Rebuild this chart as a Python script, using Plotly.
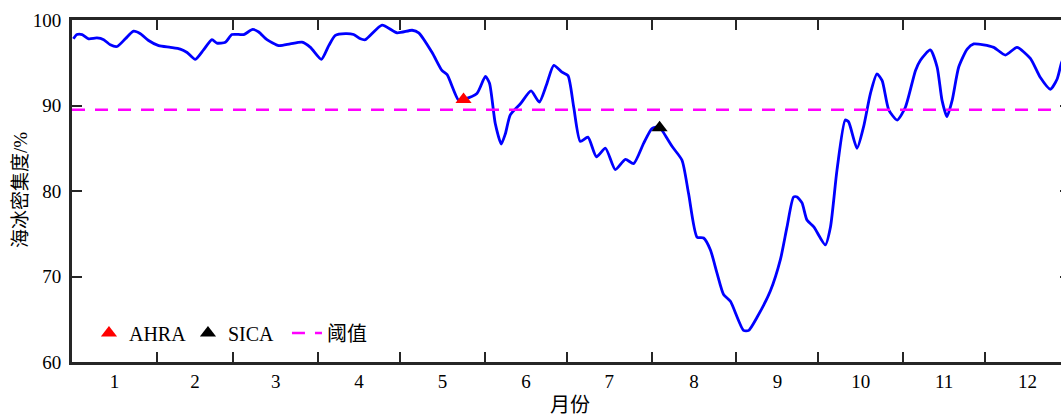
import plotly.graph_objects as go

# ---- data (day of year, sea-ice concentration %) ----
days = [0.5, 1.8, 3.7, 6.1, 9.1, 11.6, 14.0, 16.5, 19.5, 22.5, 25.0, 28.0, 31.7, 36.0, 39.6,
        42.1, 45.1, 48.1, 51.2, 53.0, 56.1, 58.5, 62.8, 66.1, 68.3, 71.3, 75.6, 79.8, 84.1,
        87.2, 91.2, 93.9, 96.3, 100.0, 103.0, 105.5, 107.3, 113.4, 118.9, 124.4, 126.8,
        131.7, 135.3, 137.2, 141.4, 143.2, 148.1, 151.2, 152.7, 154.8, 157.0, 158.5, 160.3,
        164.0, 167.9, 170.9, 173.5, 176.2, 179.2, 181.4, 183.5, 185.9, 188.7, 191.8, 195.1,
        198.7, 202.4, 205.4, 209.1, 212.1, 214.9, 215.8, 219.5, 223.1, 225.5, 228.6, 231.0,
        233.5, 235.9, 238.3, 240.8, 245.6, 247.5, 250.5, 255.4, 259.1, 261.5, 263.9, 265.2,
        267.0, 268.8, 271.3, 275.5, 277.4, 279.8, 282.8, 284.0, 287.1, 289.5, 292.0, 294.4,
        296.3, 298.7, 301.8, 304.8, 308.5, 310.3, 313.9, 316.4, 318.2, 320.0, 321.9, 324.3,
        327.4, 329.8, 333.4, 337.1, 341.4, 345.6, 350.5, 354.1, 357.8, 360.3, 361.9, 364.0]
conc = [97.8, 98.3, 98.3, 97.8, 97.9, 97.7, 97.1, 96.9, 97.8, 98.7, 98.4, 97.6, 97.0, 96.8, 96.6,
        96.2, 95.4, 96.5, 97.7, 97.3, 97.4, 98.3, 98.3, 98.9, 98.6, 97.7, 97.0, 97.2, 97.4,
        96.8, 95.4, 97.0, 98.2, 98.4, 98.3, 97.8, 97.7, 99.4, 98.5, 98.8, 98.5,
        96.2, 94.1, 93.6, 90.6, 90.7, 91.4, 93.4, 92.6, 87.9, 85.5, 86.7, 88.9,
        90.2, 91.7, 90.4, 92.4, 94.7, 93.9, 93.5, 89.8, 85.8, 86.3, 84.0, 85.0,
        82.5, 83.7, 83.2, 85.6, 87.3, 87.5, 87.1, 85.2, 83.6, 79.7, 74.6, 74.5,
        73.1, 70.4, 67.9, 67.1, 63.7, 63.7, 65.2, 68.3, 72.0, 75.8, 79.3, 79.3,
        78.6, 76.6, 75.8, 73.7, 75.8, 82.5, 88.3, 88.1, 85.0, 87.5, 91.4, 93.7,
        92.9, 89.5, 88.3, 89.8, 94.1, 95.3, 96.5, 94.5, 90.6, 88.7, 90.6, 94.5,
        96.6, 97.2, 97.1, 96.8, 95.9, 96.8, 95.5, 93.3, 91.9, 93.1, 95.0, 96.5]

ahra_day = [143.2]
ahra_val = [90.7]
sica_day = [214.9]
sica_val = [87.4]
threshold = 89.5

month_labels = [str(m) for m in range(1, 13)]
month_len = [31, 28, 31, 30, 31, 30, 31, 31, 30, 31, 30, 31]
bounds = [sum(month_len[:i]) for i in range(1, 12)]
centers = [sum(month_len[:i]) + month_len[i] / 2 for i in range(12)]

SERIF = "'Liberation Serif', 'Times New Roman', 'Noto Sans CJK SC', serif"
AX = "#262626"
XR = [0, 365]

fig = go.Figure()
fig.add_trace(go.Scatter(x=days, y=conc, mode="lines", showlegend=False,
                         line=dict(color="#0000ff", width=2.8, shape="spline", smoothing=0.6)))
fig.add_trace(go.Scatter(x=XR, y=[threshold, threshold], mode="lines", name="阈值",
                         xaxis="x2", legendrank=3,
                         line=dict(color="#ff00ff", width=2.5, dash="13px,10px")))
fig.add_trace(go.Scatter(x=ahra_day, y=ahra_val, mode="markers", name="AHRA", legendrank=1,
                         marker=dict(symbol="triangle-up", color="#ff0000", size=14)))
fig.add_trace(go.Scatter(x=sica_day, y=sica_val, mode="markers", name="SICA", legendrank=2,
                         marker=dict(symbol="triangle-up", color="#000000", size=14)))

W, H = 1075, 414
ml, mr, mt, mb = 72, 5, 20, 52
pw, ph = W - ml - mr, H - mt - mb

fig.update_layout(
    width=W, height=H,
    margin=dict(l=ml, r=mr, t=mt, b=mb, autoexpand=False),
    paper_bgcolor="white", plot_bgcolor="white",
    font=dict(family=SERIF, size=19, color="black"),
    legend=dict(orientation="h", x=0.017, y=(362 - 333) / ph, xanchor="left", yanchor="middle",
                bgcolor="rgba(0,0,0,0)", font=dict(size=20, family=SERIF),
                itemwidth=30, entrywidth=54, entrywidthmode="pixels"),
    xaxis=dict(range=XR, tickvals=bounds, ticks="inside", ticklen=10, tickwidth=2.4,
               tickcolor=AX, showticklabels=False, automargin=False,
               showline=True, linecolor=AX, linewidth=2.8, mirror="ticks",
               showgrid=False, zeroline=False),
    xaxis2=dict(range=XR, overlaying="x", side="bottom", tickvals=centers,
                ticktext=month_labels, ticks="", showline=False, showgrid=False,
                zeroline=False, automargin=False, ticklabelstandoff=6),
    yaxis=dict(range=[60, 100], tickvals=[60, 70, 80, 90, 100], ticks="inside",
               ticklen=10, tickwidth=2.4, tickcolor=AX, automargin=False,
               showline=True, linecolor=AX, linewidth=2.8, mirror="ticks",
               showgrid=False, zeroline=False, ticklabelstandoff=4),
    annotations=[
        dict(text="月份", xref="paper", yref="paper", x=(570 - ml) / pw, y=-(405 - 362) / ph,
             xanchor="center", yanchor="middle", showarrow=False,
             font=dict(size=20, family=SERIF)),
        dict(text="海冰密集度/%", xref="paper", yref="paper", x=-(ml - 20) / pw,
             y=(362 - 190) / ph, xanchor="center", yanchor="middle", textangle=-90,
             showarrow=False, font=dict(size=19, family=SERIF)),
    ],
)

fig.write_html("out.html")
